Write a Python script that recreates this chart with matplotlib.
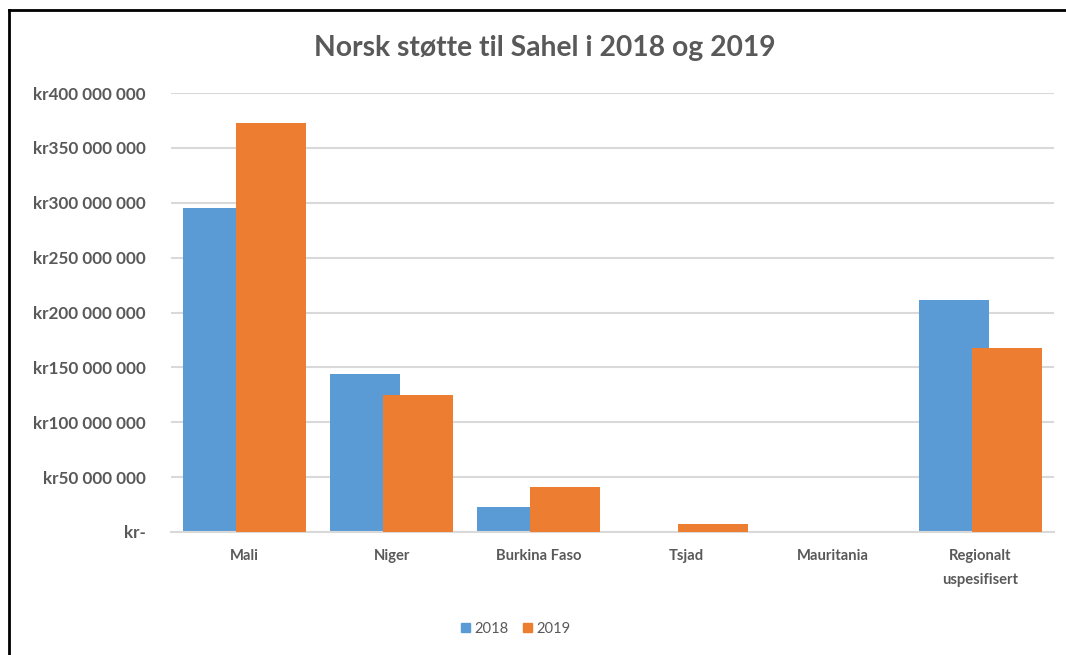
import numpy as np
import matplotlib
matplotlib.use("Agg")
from matplotlib import pyplot as plt
from matplotlib.lines import Line2D
from matplotlib.patches import Patch

plt.rcParams['font.family'] = ['Lato', 'DejaVu Sans']

# Data (NOK)
categories = ['Mali', 'Niger', 'Burkina Faso', 'Tsjad', 'Mauritania',
              'Regionalt\nuspesifisert']
support_2018 = [295.6e6, 143.9e6, 22.8e6, 0.0, 0.0, 211.4e6]
support_2019 = [372.6e6, 124.4e6, 41.1e6, 7.3e6, 0.0, 167.6e6]
series_names = ['2018', '2019']
y_ticks = [0, 50e6, 100e6, 150e6, 200e6, 250e6, 300e6, 350e6, 400e6]
y_tick_labels = ['kr-', 'kr50 000 000', 'kr100 000 000', 'kr150 000 000',
                 'kr200 000 000', 'kr250 000 000', 'kr300 000 000',
                 'kr350 000 000', 'kr400 000 000']

blue = '#5B9BD5'
orange = '#ED7D31'
text_col = '#595959'
grid_col = '#D9D9D9'

fig = plt.figure(figsize=(10.66, 6.55), dpi=100)
ax = fig.add_axes([171 / 1066, 1 - 532 / 655, (1054 - 171) / 1066, (532 - 93) / 655])

x = np.arange(len(categories))
width = 0.475
offset = 0.18
ax.bar(x - offset, support_2018, width, color=blue, zorder=2)
ax.bar(x + offset, support_2019, width, color=orange, zorder=3)

ax.set_xlim(-0.5, len(categories) - 0.5)
ax.set_ylim(0, 400e6)
ax.set_yticks(y_ticks)
ax.set_yticklabels(y_tick_labels, fontsize=12.3, fontweight='bold', color=text_col)
ax.set_xticks(x)
ax.set_xticklabels(categories, fontsize=10.6, fontweight='bold', color=text_col,
                   linespacing=1.95, va='top')
ax.tick_params(axis='both', length=0)
ax.tick_params(axis='y', pad=18)
ax.tick_params(axis='x', pad=12)

ax.yaxis.grid(True, color=grid_col, linewidth=1.5, zorder=0)
ax.set_axisbelow(True)
for side in ['top', 'right', 'left']:
    ax.spines[side].set_visible(False)
ax.spines['bottom'].set_color(grid_col)
ax.spines['bottom'].set_linewidth(1.5)

fig.text(545 / 1066, 1 - 48 / 655, 'Norsk støtte til Sahel i 2018 og 2019',
         ha='center', va='center', fontsize=20.3, fontweight='bold', color=text_col)

handles = [Patch(color=blue, label=series_names[0]),
           Patch(color=orange, label=series_names[1])]
fig.legend(handles=handles, loc='center', bbox_to_anchor=(516 / 1066, 1 - 629 / 655),
           ncol=2, frameon=False, fontsize=10.6, handlelength=0.6, handleheight=0.6,
           handletextpad=0.3, columnspacing=1.0, labelcolor=text_col)

# chart frame (top and left edges)
fig.add_artist(Line2D([9 / 1066, 1.0], [1 - 10 / 655, 1 - 10 / 655], color='black', linewidth=2))
fig.add_artist(Line2D([9 / 1066, 9 / 1066], [0.0, 1 - 10 / 655], color='black', linewidth=2))

plt.savefig('out.png', dpi=100)
plt.close()
